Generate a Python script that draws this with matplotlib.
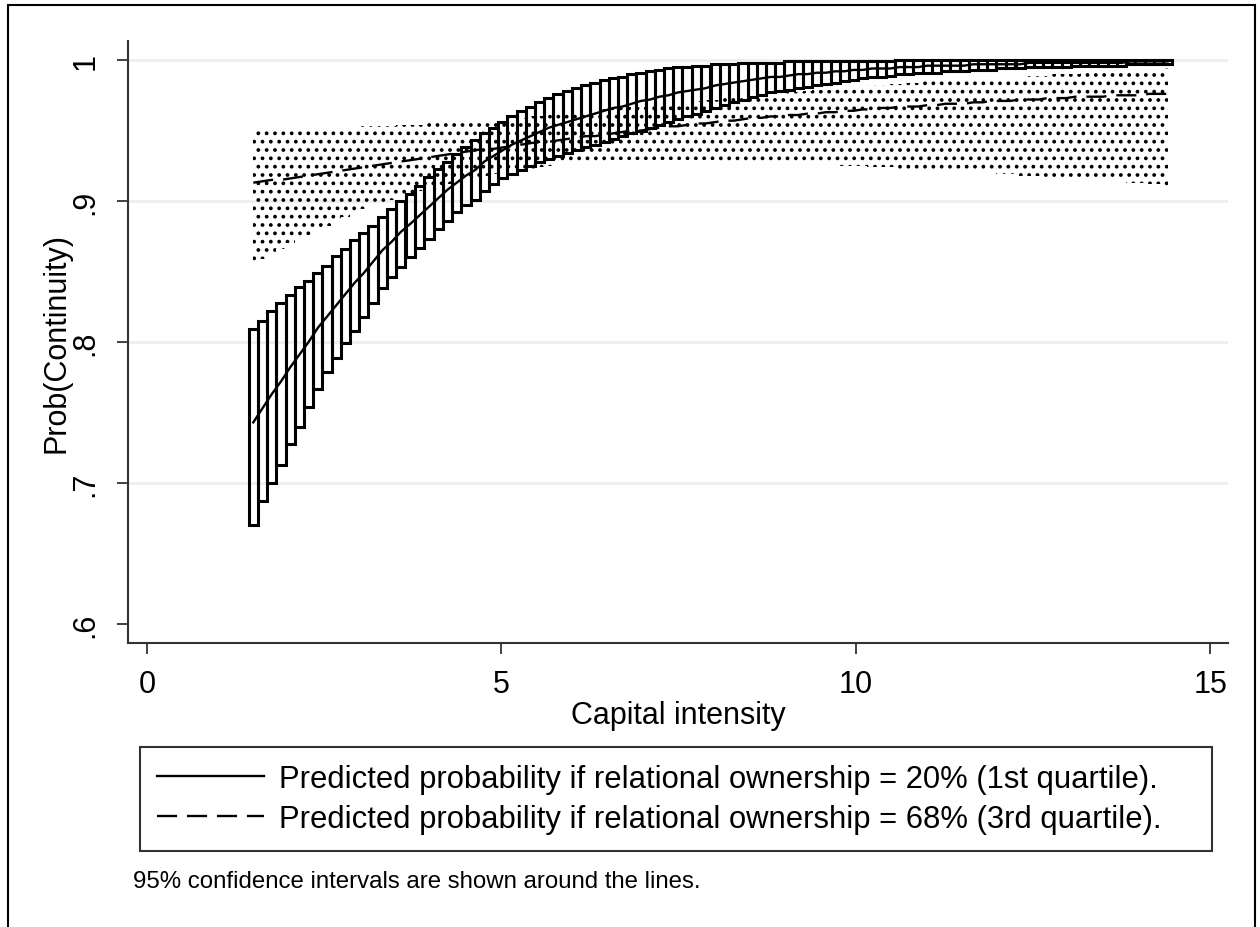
import matplotlib
matplotlib.use("Agg")
import matplotlib.pyplot as plt
from matplotlib.patches import Rectangle

plt.rcParams['font.family'] = ['Liberation Sans', 'DejaVu Sans']
plt.rcParams['hatch.linewidth'] = 1.5

# ---------------- data ----------------
capital_intensity = [
    1.50, 1.63, 1.76, 1.89, 2.02, 2.15, 2.28, 2.41, 2.54, 2.67,
    2.80, 2.93, 3.06, 3.19, 3.32, 3.45, 3.58, 3.72, 3.85, 3.98,
    4.11, 4.24, 4.37, 4.50, 4.63, 4.76, 4.89, 5.02, 5.15, 5.28,
    5.41, 5.54, 5.67, 5.80, 5.93, 6.06, 6.19, 6.32, 6.45, 6.58,
    6.71, 6.84, 6.97, 7.10, 7.23, 7.36, 7.49, 7.62, 7.75, 7.88,
    8.02, 8.15, 8.28, 8.41, 8.54, 8.67, 8.80, 8.93, 9.06, 9.19,
    9.32, 9.45, 9.58, 9.71, 9.84, 9.97, 10.10, 10.23, 10.36, 10.49,
    10.62, 10.75, 10.88, 11.01, 11.14, 11.27, 11.40, 11.53, 11.66, 11.79,
    11.92, 12.05, 12.18, 12.32, 12.45, 12.58, 12.71, 12.84, 12.97, 13.10,
    13.23, 13.36, 13.49, 13.62, 13.75, 13.88, 14.01, 14.14, 14.27, 14.40]

# relational ownership = 20% (1st quartile)
prob_q1 = [
    .743, .753, .763, .772, .782, .791, .800, .810, .818, .826,
    .834, .842, .849, .857, .865, .871, .878, .884, .890, .896,
    .902, .908, .913, .918, .922, .928, .932, .936, .940, .943,
    .946, .949, .952, .954, .956, .958, .960, .962, .964, .966,
    .967, .969, .971, .972, .974, .975, .977, .978, .979, .980,
    .982, .983, .984, .985, .986, .987, .988, .988, .989, .990,
    .990, .991, .991, .992, .992, .993, .993, .994, .994, .994,
    .995, .995, .995, .996, .996, .996, .996, .996, .997, .997,
    .997, .997, .997, .997, .998, .998, .998, .998, .998, .998,
    .998, .998, .998, .998, .998, .999, .999, .999, .999, .999]
lo_q1 = [
    .670, .687, .700, .713, .728, .740, .754, .767, .779, .789,
    .799, .808, .818, .828, .838, .846, .853, .860, .867, .873,
    .880, .886, .892, .897, .901, .907, .912, .916, .919, .922,
    .925, .928, .930, .932, .934, .936, .938, .940, .942, .944,
    .946, .948, .950, .952, .954, .956, .958, .960, .962, .964,
    .966, .968, .970, .972, .974, .975, .977, .978, .979, .980,
    .981, .982, .983, .984, .985, .986, .987, .988, .988, .989,
    .990, .990, .991, .991, .991, .992, .992, .992, .993, .993,
    .993, .994, .994, .994, .995, .995, .995, .995, .995, .996,
    .996, .996, .996, .996, .996, .997, .997, .997, .997, .997]
hi_q1 = [
    .809, .815, .822, .828, .833, .839, .843, .849, .854, .861,
    .866, .872, .877, .882, .889, .894, .900, .905, .911, .917,
    .923, .928, .933, .938, .943, .948, .952, .956, .960, .964,
    .967, .970, .973, .976, .978, .980, .982, .984, .986, .987,
    .988, .990, .991, .992, .993, .994, .995, .995, .996, .996,
    .997, .997, .997, .998, .998, .998, .998, .998, .999, .999,
    .999, .999, .999, .999, .999, .999, .999, .999, .999, .999,
    1.0, 1.0, 1.0, 1.0, 1.0, 1.0, 1.0, 1.0, 1.0, 1.0,
    1.0, 1.0, 1.0, 1.0, 1.0, 1.0, 1.0, 1.0, 1.0, 1.0,
    1.0, 1.0, 1.0, 1.0, 1.0, 1.0, 1.0, 1.0, 1.0, 1.0]

# relational ownership = 68% (3rd quartile)
prob_q3 = [
    .913, .914, .915, .915, .916, .917, .918, .919, .920, .921,
    .922, .923, .924, .925, .926, .927, .928, .929, .930, .931,
    .932, .933, .934, .935, .936, .937, .937, .938, .939, .940,
    .941, .942, .942, .943, .944, .945, .946, .946, .947, .948,
    .949, .950, .950, .951, .952, .953, .953, .954, .955, .955,
    .956, .957, .957, .958, .959, .959, .960, .960, .961, .961,
    .962, .962, .963, .963, .964, .964, .965, .965, .966, .966,
    .967, .967, .967, .968, .968, .969, .969, .969, .970, .970,
    .971, .971, .971, .972, .972, .972, .973, .973, .973, .974,
    .974, .974, .974, .975, .975, .975, .975, .976, .976, .976]
lo_q3 = [
    .855, .859, .863, .866, .870, .873, .876, .879, .882, .885,
    .889, .892, .894, .897, .899, .901, .903, .905, .907, .909,
    .911, .912, .914, .915, .917, .918, .919, .920, .921, .922,
    .923, .924, .925, .926, .927, .927, .928, .928, .928, .929,
    .929, .929, .929, .929, .929, .929, .929, .929, .929, .929,
    .929, .928, .928, .928, .928, .928, .928, .927, .927, .927,
    .927, .926, .926, .926, .925, .925, .925, .924, .924, .924,
    .923, .923, .923, .922, .922, .922, .921, .921, .920, .920,
    .920, .919, .919, .918, .918, .918, .917, .917, .916, .916,
    .915, .915, .914, .914, .914, .913, .913, .912, .912, .911]
hi_q3 = [
    .950, .950, .950, .951, .951, .951, .951, .951, .952, .952,
    .952, .952, .953, .953, .953, .953, .954, .954, .954, .955,
    .955, .955, .956, .956, .957, .957, .958, .958, .959, .959,
    .960, .960, .961, .962, .962, .963, .963, .964, .965, .965,
    .966, .967, .967, .968, .968, .969, .970, .970, .971, .972,
    .972, .973, .973, .974, .975, .975, .976, .976, .977, .977,
    .978, .979, .979, .980, .980, .981, .981, .982, .982, .983,
    .983, .984, .984, .985, .985, .985, .986, .986, .987, .987,
    .987, .988, .988, .988, .989, .989, .989, .990, .990, .990,
    .991, .991, .991, .992, .992, .992, .993, .993, .993, .994]

x_ticks = [0, 5, 10, 15]
x_ticklabels = ['0', '5', '10', '15']
y_ticks = [0.6, 0.7, 0.8, 0.9, 1.0]
y_ticklabels = ['.6', '.7', '.8', '.9', '1']
grid_levels = [0.7, 0.8, 0.9, 1.0]

label_q1 = 'Predicted probability if relational ownership = 20% (1st quartile).'
label_q3 = 'Predicted probability if relational ownership = 68% (3rd quartile).'
caption = '95% confidence intervals are shown around the lines.'

# ---------------- figure ----------------
W, H = 1260, 928
fig = plt.figure(figsize=(W / 100, H / 100), dpi=100)
ax = fig.add_axes([128 / W, 1 - 644 / H, 1100 / W, 602 / H])
ax.set_xlim(-0.268, 15.253)
ax.set_ylim(0.5865, 1.0135)

for g in grid_levels:
    ax.axhline(g, color='#e6eff1', lw=1.8, zorder=0)

bar_w = capital_intensity[1] - capital_intensity[0]

# 68% CI: dotted shading
ax.fill_between(capital_intensity, lo_q3, hi_q3, step='mid', facecolor='none',
                edgecolor='black', linewidth=0, hatch='..', zorder=2)

# 20% CI: outlined bars
heights = [h - l for h, l in zip(hi_q1, lo_q1)]
ax.bar(capital_intensity, heights, bottom=lo_q1, width=bar_w, fill=False,
       edgecolor='black', linewidth=2.2, zorder=3)

l1, = ax.plot(capital_intensity, prob_q1, color='black', lw=1.7, zorder=4,
              label=label_q1)
l2, = ax.plot(capital_intensity, prob_q3, color='black', lw=1.7, zorder=4,
              linestyle=(0, (8.5, 4.2)), label=label_q3)

for s in ['top', 'right']:
    ax.spines[s].set_visible(False)
for s in ['left', 'bottom']:
    ax.spines[s].set_color('#333333')
    ax.spines[s].set_linewidth(1.5)

ax.set_xticks(x_ticks)
ax.set_xticklabels(x_ticklabels)
ax.set_yticks(y_ticks)
ax.set_yticklabels(y_ticklabels, rotation=90, va='center')
ax.tick_params(axis='both', direction='out', length=8, width=1.3,
               color='#333333', labelsize=22)
ax.tick_params(axis='x', pad=11)
ax.tick_params(axis='y', pad=12)

ax.set_xlabel('Capital intensity', fontsize=22)
ax.xaxis.label.set_verticalalignment('center')
ax.xaxis.set_label_coords(0.5, (644 - 716) / 602)
ax.set_ylabel('Prob(Continuity)', fontsize=22)
ax.yaxis.label.set_verticalalignment('center')
ax.yaxis.set_label_coords((57 - 128) / 1100, 0.5)

leg = fig.legend(handles=[l1, l2], loc='upper left',
                 bbox_to_anchor=(140 / W, 1 - 852 / H, 1072 / W, 104 / H),
                 mode='expand', fontsize=22.3, frameon=True, fancybox=False,
                 edgecolor='black', handlelength=3.45, handletextpad=0.5,
                 borderpad=0.55, labelspacing=0.32, borderaxespad=0)
leg.get_frame().set_linewidth(1.5)

fig.text(133 / W, 1 - 882 / H, caption, fontsize=17.3, ha='left', va='center')

fig.patches.append(Rectangle((8 / W, -0.01), (1255 - 8) / W, 1 - 6 / H + 0.01,
                             transform=fig.transFigure, fill=False,
                             edgecolor='black', linewidth=1.5))

fig.savefig('out.png', dpi=100)
